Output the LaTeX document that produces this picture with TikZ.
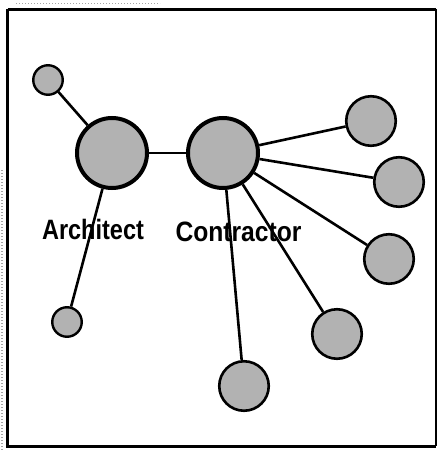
\documentclass[tikz,border=0pt]{standalone}
\usepackage{fontspec}
\usepackage{graphicx}
\newfontfamily\lblfont{Liberation Sans}
\definecolor{stipple}{gray}{0.70}
\tikzset{
  hub/.style={circle, draw=black, line width=4pt, fill=stipple, minimum size=70pt, inner sep=0pt},
  party/.style={circle, draw=black, line width=2.6pt, fill=stipple, minimum size=49.5pt, inner sep=0pt},
  minor/.style={circle, draw=black, line width=2.4pt, fill=stipple, minimum size=29.5pt, inner sep=0pt},
  link/.style={line width=2.6pt},
  rolelabel/.style={anchor=base, inner sep=0pt, font=\lblfont\bfseries\fontsize{28}{30}\selectfont},
  frame/.style={line width=3pt},
  speckle/.style={draw=black!35, line width=1.2pt, dash pattern=on 0.8pt off 2.2pt}
}
\begin{document}
\begin{tikzpicture}[x=1pt, y=-1pt]
  \useasboundingbox (0,0) rectangle (438,450);
  % faint speckles outside the frame
  \draw[speckle] (16,3.5) -- (160,3.5);
  \draw[speckle] (2,170) -- (2,450);
  % frame
  \draw[frame] (7.5,9) -- (436,9);
  \draw[frame] (7.5,9) -- (7.5,446) -- (436,446);
  \draw[line width=1.5pt] (436,9) -- (436,446);

  % labels
  \node[rolelabel] (archlbl) at (93,239) {\scalebox{0.84}[1]{Architect}};
  \node[rolelabel] (contlbl) at (238.5,241) {\scalebox{0.88}[1]{Contractor}};

  % nodes
  \node[hub] (arch) at (112,153) {};
  \node[hub] (cont) at (223,153) {};
  \node[minor] (a1) at (48,80) {};
  \node[minor] (a2) at (67,322) {};
  \node[party] (c1) at (371,121) {};
  \node[party] (c2) at (399,182) {};
  \node[party] (c3) at (389,259) {};
  \node[party] (c4) at (337,334) {};
  \node[party] (c5) at (244,386) {};

  % connectors
  \draw[link] (a1) -- (arch);
  \draw[link] (arch) -- (a2);
  \draw[link] (arch) -- (cont);
  \foreach \t in {c1,c2,c3,c4,c5} {
    \draw[link] (cont) -- (\t);
  }
\end{tikzpicture}
\end{document}
